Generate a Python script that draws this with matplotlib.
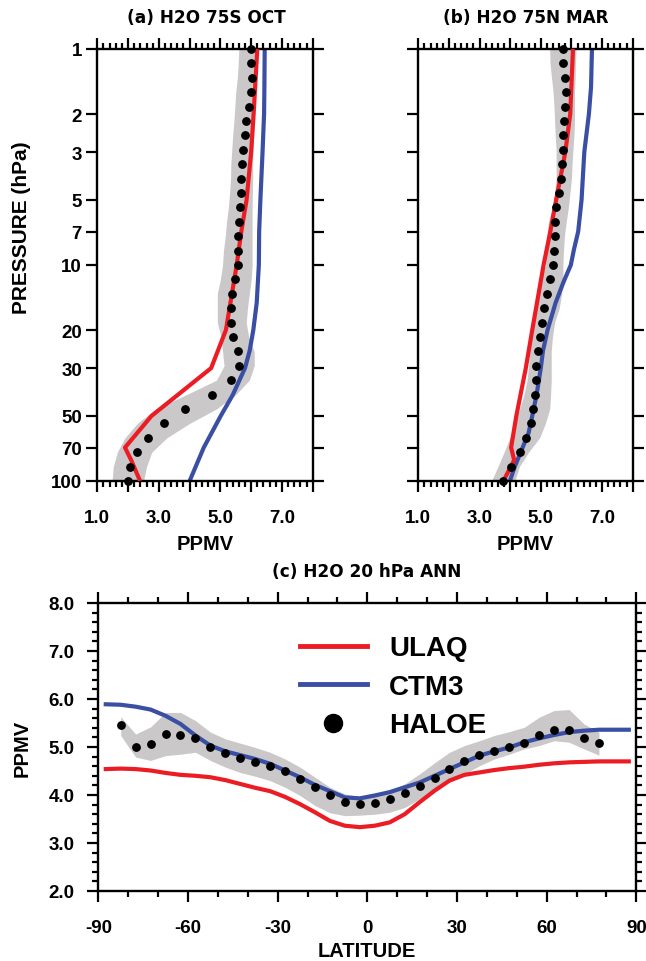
import matplotlib
matplotlib.use("Agg")
import matplotlib.pyplot as plt
from matplotlib.ticker import MultipleLocator, NullLocator, FuncFormatter, FixedLocator
from matplotlib.lines import Line2D

plt.rcParams['font.family'] = ['Liberation Sans', 'DejaVu Sans']
plt.rcParams['font.weight'] = 'bold'

# ---------------- data ----------------
p_haloe = [1.0, 1.166, 1.359, 1.585, 1.848, 2.154, 2.512, 2.929, 3.415, 3.981,
           4.642, 5.412, 6.310, 7.356, 8.577, 10.0, 11.66, 13.59, 15.85, 18.48,
           21.54, 25.12, 29.29, 34.15, 39.81, 46.42, 54.12, 63.10, 73.56, 85.77, 100.0]

haloe_a = [6.01, 6.01, 6.03, 5.99, 5.94, 5.83, 5.81, 5.75, 5.69, 5.67, 5.68, 5.64,
           5.59, 5.58, 5.57, 5.56, 5.46, 5.38, 5.35, 5.33, 5.40, 5.56, 5.61, 5.36,
           4.72, 3.86, 3.16, 2.64, 2.28, 2.07, 1.99]
band_a_lo = [5.60, 5.58, 5.55, 5.50, 5.47, 5.44, 5.40, 5.37, 5.34, 5.33, 5.30, 5.26,
             5.20, 5.16, 5.10, 5.07, 5.00, 4.90, 4.90, 4.90, 5.02, 5.07, 5.12, 4.87,
             3.90, 2.90, 2.30, 1.90, 1.65, 1.52, 1.48]
band_a_hi = [6.18, 6.17, 6.16, 6.14, 6.12, 6.10, 6.08, 6.06, 6.05, 6.05, 6.04, 6.03,
             6.03, 6.03, 6.03, 6.03, 6.00, 5.94, 5.88, 5.84, 5.92, 6.10, 6.10, 5.94,
             5.50, 4.87, 4.00, 3.26, 2.77, 2.60, 2.50]

haloe_b = [5.72, 5.74, 5.78, 5.83, 5.78, 5.75, 5.73, 5.71, 5.70, 5.67, 5.61, 5.50,
           5.46, 5.46, 5.43, 5.39, 5.31, 5.21, 5.11, 5.04, 4.98, 4.92, 4.85, 4.83,
           4.80, 4.74, 4.67, 4.51, 4.31, 4.04, 3.75]
band_b_lo = [5.29, 5.30, 5.35, 5.40, 5.43, 5.45, 5.47, 5.50, 5.50, 5.50, 5.45, 5.38,
             5.25, 5.20, 5.18, 5.15, 5.00, 4.90, 4.82, 4.75, 4.69, 4.64, 4.60, 4.55,
             4.45, 4.31, 4.15, 3.99, 3.80, 3.60, 3.39]
band_b_hi = [6.15, 6.13, 6.12, 6.10, 6.10, 6.10, 6.08, 6.05, 6.02, 6.00, 5.95, 5.90,
             5.83, 5.77, 5.74, 5.72, 5.72, 5.68, 5.60, 5.45, 5.38, 5.34, 5.34, 5.34,
             5.32, 5.29, 5.15, 4.96, 4.60, 4.30, 4.15]

p_ulaq = [1, 2, 3, 5, 7, 10, 20, 30, 50, 70, 80, 100]
ulaq_a = [6.20, 6.08, 6.00, 5.85, 5.68, 5.53, 5.18, 4.70, 2.76, 1.90, 2.10, 2.39]
ulaq_b = [6.05, 5.96, 5.80, 5.50, 5.31, 5.09, 4.72, 4.51, 4.20, 4.03, 4.13, 3.78]

p_ctm_a = [1, 1.5, 2, 3, 5, 7, 10, 15, 20, 25, 30, 40, 50, 70, 100]
ctm3_a = [6.44, 6.43, 6.42, 6.37, 6.30, 6.26, 6.25, 6.18, 6.07, 5.95, 5.80, 5.40,
          5.01, 4.46, 4.00]
p_ctm_b = [1, 1.5, 2, 3, 5, 7, 8.5, 10, 12, 15, 20, 25, 30, 40, 50, 60, 75, 85, 100]
ctm3_b = [6.67, 6.64, 6.57, 6.42, 6.33, 6.22, 6.08, 5.98, 5.74, 5.48, 5.22, 5.07,
          5.00, 4.86, 4.72, 4.60, 4.32, 4.16, 3.99]

lat_haloe = [-82.5, -77.5, -72.5, -67.5, -62.5, -57.5, -52.5, -47.5, -42.5, -37.5,
             -32.5, -27.5, -22.5, -17.5, -12.5, -7.5, -2.5, 2.5, 7.5, 12.5, 17.5,
             22.5, 27.5, 32.5, 37.5, 42.5, 47.5, 52.5, 57.5, 62.5, 67.5, 72.5, 77.5]
haloe_c = [5.46, 4.99, 5.07, 5.27, 5.26, 5.19, 4.99, 4.87, 4.78, 4.69, 4.60, 4.49,
           4.33, 4.16, 3.99, 3.86, 3.81, 3.83, 3.92, 4.04, 4.18, 4.35, 4.54, 4.70,
           4.83, 4.92, 4.99, 5.08, 5.24, 5.36, 5.36, 5.19, 5.08]
band_c_lo = [5.24, 4.79, 4.72, 4.82, 4.85, 4.89, 4.72, 4.58, 4.47, 4.39, 4.30, 4.16,
             3.99, 3.78, 3.63, 3.57, 3.58, 3.60, 3.64, 3.74, 3.92, 4.09, 4.28, 4.44,
             4.61, 4.75, 4.85, 4.96, 5.03, 5.13, 5.10, 4.96, 4.83]
band_c_hi = [5.63, 5.27, 5.42, 5.72, 5.72, 5.55, 5.31, 5.17, 5.08, 4.99, 4.89, 4.75,
             4.58, 4.37, 4.16, 4.02, 3.97, 3.97, 4.09, 4.23, 4.44, 4.67, 4.89, 5.03,
             5.13, 5.24, 5.32, 5.41, 5.62, 5.76, 5.78, 5.48, 5.31]

lat_model = [-87.5, -82.5, -77.5, -72.5, -67.5, -62.5, -57.5, -52.5, -47.5, -42.5,
             -37.5, -32.5, -27.5, -22.5, -17.5, -12.5, -7.5, -2.5, 2.5, 7.5, 12.5,
             17.5, 22.5, 27.5, 32.5, 37.5, 42.5, 47.5, 52.5, 57.5, 62.5, 67.5, 72.5,
             77.5, 82.5, 87.5]
ulaq_c = [4.54, 4.55, 4.54, 4.51, 4.46, 4.42, 4.40, 4.37, 4.31, 4.23, 4.15, 4.08,
          3.96, 3.81, 3.64, 3.46, 3.36, 3.33, 3.36, 3.43, 3.60, 3.85, 4.09, 4.30,
          4.42, 4.47, 4.52, 4.56, 4.59, 4.63, 4.66, 4.68, 4.69, 4.70, 4.70, 4.70]
ctm3_c = [5.89, 5.88, 5.84, 5.78, 5.65, 5.48, 5.24, 5.03, 4.91, 4.83, 4.75, 4.65,
          4.51, 4.37, 4.21, 4.08, 3.95, 3.93, 3.99, 4.06, 4.16, 4.26, 4.40, 4.54,
          4.68, 4.82, 4.91, 4.99, 5.10, 5.18, 5.25, 5.31, 5.34, 5.36, 5.36, 5.36]

pres_ticks = [1, 2, 3, 5, 7, 10, 20, 30, 50, 70, 100]
series_names = ["ULAQ", "CTM3", "HALOE"]

RED = "#EC1C24"
BLUE = "#3A4FA3"
GRAY = "#CAC8C8"
LW = 3.0
TICK_FS = 13.5
LAB_FS = 14.5
TITLE_FONT = ['DejaVu Sans']
TITLE_FS = 12.2

W, H = 646, 962
fig = plt.figure(figsize=(W / 100, H / 100), dpi=100)


def frac_box(x0, y0, x1, y1):
    return [x0 / W, 1 - y1 / H, (x1 - x0) / W, (y1 - y0) / H]


def style(ax):
    for s in ax.spines.values():
        s.set_linewidth(1.7)
    ax.tick_params(which='both', direction='out', top=True, right=True,
                   width=1.6, labelsize=TICK_FS)
    ax.tick_params(which='major', length=8)
    ax.tick_params(which='minor', length=4)


def profile(ax, haloe, lo, hi, ulaq, ctm, p_ctm, show_ylab):
    ax.fill_betweenx(p_haloe, lo, hi, color=GRAY, lw=0, zorder=1)
    ax.plot(ctm, p_ctm, color=BLUE, lw=LW, zorder=2, solid_capstyle='butt')
    ax.plot(ulaq, p_ulaq, color=RED, lw=LW, zorder=3, solid_capstyle='butt')
    ax.plot(haloe, p_haloe, 'o', color='black', ms=5.3, zorder=4, clip_on=False)
    ax.set_yscale('log')
    ax.set_ylim(100, 1)
    ax.set_xlim(1, 8)
    ax.yaxis.set_major_locator(FixedLocator(pres_ticks))
    ax.yaxis.set_minor_locator(NullLocator())
    ax.yaxis.set_major_formatter(FuncFormatter(lambda v, p: f"{v:g}"))
    ax.xaxis.set_major_locator(MultipleLocator(1))
    ax.xaxis.set_minor_locator(MultipleLocator(0.2))
    ax.xaxis.set_major_formatter(FuncFormatter(
        lambda v, p: f"{v:.1f}" if int(round(v)) % 2 == 1 and v < 7.5 else ""))
    style(ax)
    ax.tick_params(axis='y', pad=3)
    ax.tick_params(axis='x', pad=12)
    if not show_ylab:
        ax.tick_params(axis='y', labelleft=False)


ax_a = fig.add_axes(frac_box(97.3, 50, 312.7, 482))
profile(ax_a, haloe_a, band_a_lo, band_a_hi, ulaq_a, ctm3_a, p_ctm_a, True)
ax_b = fig.add_axes(frac_box(418.3, 50, 632.7, 482))
profile(ax_b, haloe_b, band_b_lo, band_b_hi, ulaq_b, ctm3_b, p_ctm_b, False)

ax_c = fig.add_axes(frac_box(98.3, 604, 636.3, 892))
ax_c.fill_between(lat_haloe, band_c_lo, band_c_hi, color=GRAY, lw=0, zorder=1)
ax_c.plot(lat_model, ulaq_c, color=RED, lw=LW, zorder=2)
ax_c.plot(lat_model, ctm3_c, color=BLUE, lw=LW, zorder=3)
ax_c.plot(lat_haloe, haloe_c, 'o', color='black', ms=5.3, zorder=4)
ax_c.set_xlim(-90, 90)
ax_c.set_ylim(2, 8)
ax_c.xaxis.set_major_locator(MultipleLocator(30))
ax_c.xaxis.set_minor_locator(MultipleLocator(10))
ax_c.yaxis.set_major_locator(MultipleLocator(1))
ax_c.yaxis.set_minor_locator(MultipleLocator(0.2))
ax_c.yaxis.set_major_formatter(FuncFormatter(lambda v, p: f"{v:.1f}"))
ax_c.xaxis.set_major_formatter(FuncFormatter(lambda v, p: f"{v:.0f}"))
style(ax_c)
ax_c.tick_params(axis='y', pad=9)
ax_c.tick_params(axis='x', pad=12)

handles = [Line2D([], [], color=RED, lw=3.5),
           Line2D([], [], color=BLUE, lw=3.5),
           Line2D([], [], color='black', marker='o', ms=13, ls='none')]
ax_c.legend(handles, series_names, loc='upper left', bbox_to_anchor=(0.375, 0.888),
            frameon=False, fontsize=20, handlelength=2.4, handletextpad=0.8,
            labelspacing=0.45, borderpad=0, borderaxespad=0)

# texts
fig.text(206 / W, 1 - 18 / H, "(a) H2O 75S OCT", ha='center', va='center',
         fontsize=TITLE_FS, family=TITLE_FONT)
fig.text(525.5 / W, 1 - 18 / H, "(b) H2O 75N MAR", ha='center', va='center',
         fontsize=TITLE_FS, family=TITLE_FONT)
fig.text(367 / W, 1 - 572 / H, "(c) H2O 20 hPa ANN", ha='center', va='center',
         fontsize=TITLE_FS, family=TITLE_FONT)
fig.text(205 / W, 1 - 544 / H, "PPMV", ha='center', va='center', fontsize=LAB_FS)
fig.text(525.5 / W, 1 - 544 / H, "PPMV", ha='center', va='center', fontsize=LAB_FS)
fig.text(367 / W, 1 - 952 / H, "LATITUDE", ha='center', va='center', fontsize=LAB_FS)
fig.text(22 / W, 1 - 228 / H, "PRESSURE (hPa)", ha='center', va='center',
         rotation=90, fontsize=15)
fig.text(22 / W, 1 - 748 / H, "PPMV", ha='center', va='center', rotation=90,
         fontsize=LAB_FS)

fig.savefig("out.png", dpi=100)
